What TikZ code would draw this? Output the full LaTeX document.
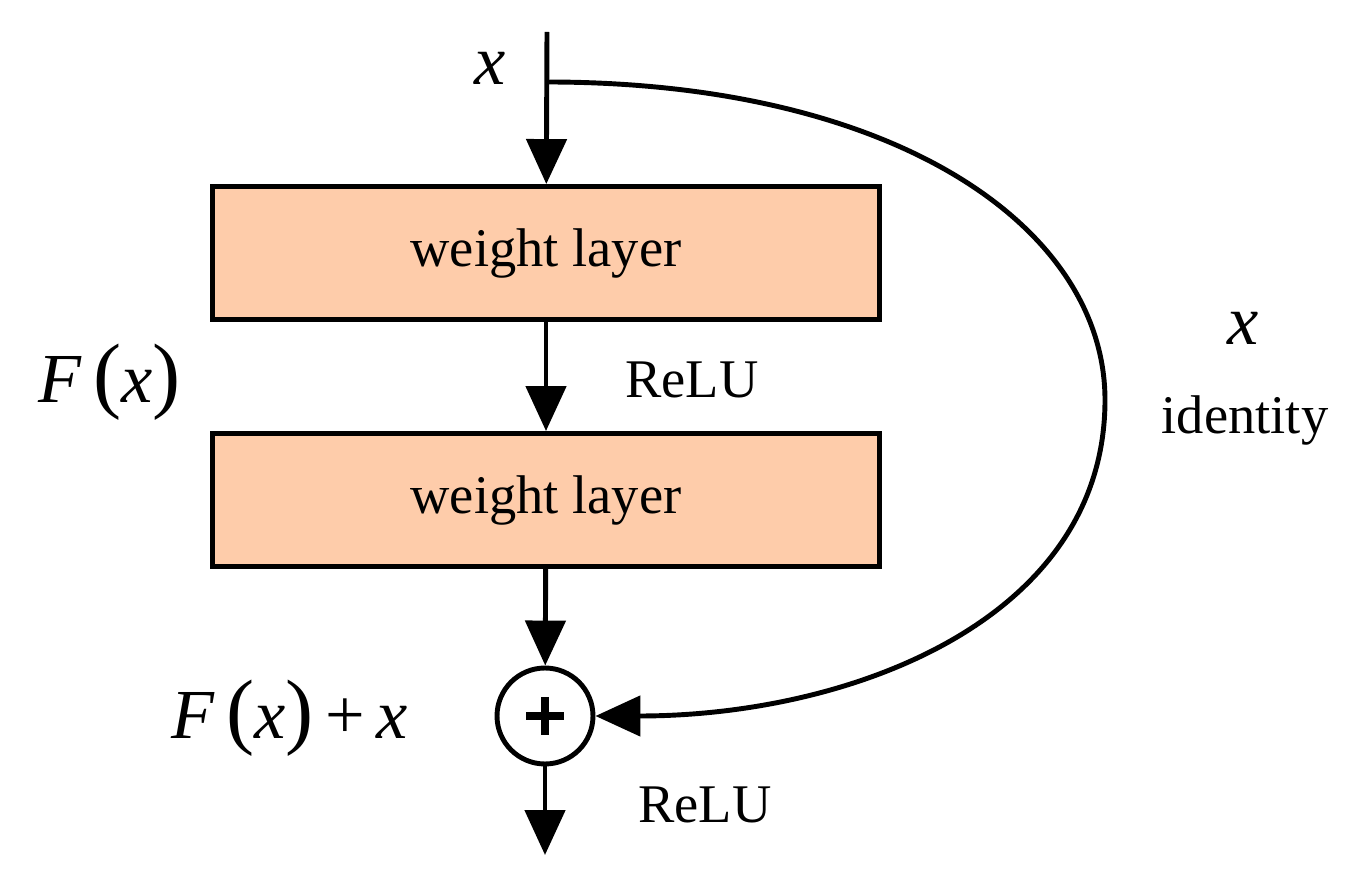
\documentclass[tikz,border=0pt]{standalone}
\usepackage{fontspec}
\setmainfont{Liberation Serif}
\usetikzlibrary{positioning,arrows.meta,calc}
\begin{document}
\begin{tikzpicture}[x=0.02cm,y=-0.02cm,line width=2.8pt,
    >={Triangle[width=0.8cm,length=0.9cm]},
    layer/.style={draw,fill=peach,minimum width=13.36cm,minimum height=2.66cm,font=\fontsize{31}{36}\selectfont},
    lbl/.style={font=\fontsize{31}{36}\selectfont},
    var/.style={font=\fontsize{40}{44}\selectfont\itshape}]
    \definecolor{peach}{RGB}{254,204,170}
    \useasboundingbox (0,0) rectangle (1370,884);
    \coordinate (in) at (547,32);
    \coordinate (split) at (547,82);
    \node [layer] (w1) at (546,253) {weight layer};
    \node [layer] (w2) at (546,500) {weight layer};
    \node [draw,circle,minimum size=1.92cm,inner sep=0pt] (add) at (545,716) {};
    \coordinate (out) at (545,855);
    \draw [line width=5pt] ($(add)+(-19,0)$) -- ($(add)+(19,0)$) ($(add)+(0,-19)$) -- ($(add)+(0,19)$);

    % labels
    \node [var] at (490,68) {x};
    \node [lbl] at (692,380) {ReLU};
    \node [var] at (110,382) {F\,\fontsize{48}{50}\selectfont\upshape(\itshape\fontsize{40}{44}\selectfont x\upshape\fontsize{48}{50}\selectfont)};
    \node [var] at (1243,328) {x};
    \node [lbl] at (1245,420) {identity};
    \node [var] at (290,718) {F\,\fontsize{48}{50}\selectfont\upshape(\itshape\fontsize{40}{44}\selectfont x\upshape\fontsize{48}{50}\selectfont)\fontsize{40}{44}\selectfont\,+\,\itshape x};
    \node [lbl] at (705,805) {ReLU};

    \draw [->] (in) -- (w1);
    \draw [->] (w1) -- (w2);
    \draw [->] (w2) -- (add);
    \draw [->] (add) -- (out);
    \draw [->] (split) .. controls (900,82) and (1105,230) .. (1105,400)
        .. controls (1105,620) and (850,716) .. (add.east);
\end{tikzpicture}
\end{document}
